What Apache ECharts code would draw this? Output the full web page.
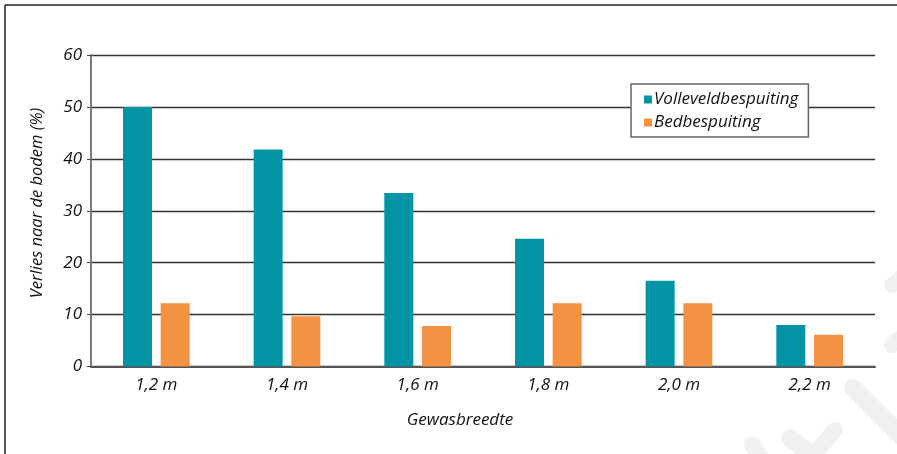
<!DOCTYPE html>
<html>
<head>
<meta charset="utf-8">
<script src="https://cdn.jsdelivr.net/npm/echarts@6/dist/echarts.min.js"></script>
<style>
  html, body { margin: 0; padding: 0; background: #fff; }
  #chart { width: 897px; height: 454px; }
</style>
</head>
<body>
<div id="chart"></div>
<script>
// Crop width categories and losses to the soil per spraying method
const categories = ['1,2 m', '1,4 m', '1,6 m', '1,8 m', '2,0 m', '2,2 m'];
const volleveld = [50, 41.8, 33.4, 24.6, 16.5, 8.0];
const bed = [12.2, 9.7, 7.8, 12.2, 12.2, 6.1];
const seriesNames = ['Volleveldbespuiting', 'Bedbespuiting'];
const yTicks = [0, 10, 20, 30, 40, 50, 60];

const FONT = '"Open Sans", Lato, sans-serif';
const TEAL = '#0294a4';
const ORANGE = '#f39243';
const MARK = '#f0f0f0';

const chart = echarts.init(document.getElementById('chart'), null, { renderer: 'canvas' });

// faint background logo strokes in the lower right corner
function stroke(x1, y1, x2, y2, w) {
  return {
    type: 'line', silent: true, z: -1,
    shape: { x1: x1, y1: y1, x2: x2, y2: y2 },
    style: { stroke: MARK, lineWidth: w, lineCap: 'round' }
  };
}

chart.setOption({
  animation: false,
  backgroundColor: '#ffffff',
  grid: { left: 91, right: 22, top: 55, bottom: 87.5, containLabel: false },
  legend: {
    data: seriesNames,
    orient: 'vertical',
    left: 631, top: 84,
    backgroundColor: '#ffffff',
    borderColor: '#666666',
    borderWidth: 1.5,
    borderRadius: 0,
    padding: [7, 10, 6, 13],
    itemGap: 6,
    itemWidth: 8, itemHeight: 8,
    icon: 'rect',
    textStyle: { fontFamily: FONT, fontStyle: 'italic', fontSize: 17, color: '#111', padding: [0, 0, 0, -3] },
    z: 10
  },
  xAxis: {
    type: 'category',
    data: categories,
    axisLine: { show: true, lineStyle: { color: '#555', width: 2 } },
    axisTick: { show: false },
    axisLabel: { fontFamily: FONT, fontStyle: 'italic', fontSize: 17, color: '#111', margin: 10 }
  },
  yAxis: {
    type: 'value',
    min: yTicks[0], max: yTicks[yTicks.length - 1], interval: 10,
    axisLine: { show: true, lineStyle: { color: '#7a7a7a', width: 2 } },
    axisTick: { show: true, length: 4, inside: false, lineStyle: { color: '#444', width: 1 } },
    axisLabel: { fontFamily: FONT, fontStyle: 'italic', fontSize: 17, color: '#111', margin: 9 },
    splitLine: { show: true, lineStyle: { color: '#333', width: 1.3 } }
  },
  series: [
    {
      name: seriesNames[0], type: 'bar', data: volleveld,
      barWidth: 29, barGap: '30%',
      itemStyle: { color: TEAL }
    },
    {
      name: seriesNames[1], type: 'bar', data: bed,
      barWidth: 29, barGap: '30%',
      itemStyle: { color: ORANGE }
    }
  ],
  graphic: [
    // frame around the figure
    { type: 'line', silent: true, shape: { x1: 5, y1: 5, x2: 897, y2: 5 }, style: { stroke: '#222', lineWidth: 1.5 } },
    { type: 'line', silent: true, shape: { x1: 5, y1: 5, x2: 5, y2: 454 }, style: { stroke: '#222', lineWidth: 1.5 } },
    stroke(892, 285, 905, 275, 16),
    stroke(892, 345, 905, 335, 16),
    stroke(853, 388, 905, 440, 18),
    stroke(790, 438, 830, 470, 18),
    stroke(800, 470, 835, 430, 16),
    stroke(752, 445, 770, 470, 16),
    {
      type: 'text', silent: true,
      x: 460, y: 420,
      style: {
        text: 'Gewasbreedte', fontFamily: FONT, fontStyle: 'italic', fontSize: 17, fill: '#111',
        align: 'center', verticalAlign: 'middle'
      }
    },
    {
      type: 'text', silent: true,
      x: 37, y: 203, rotation: Math.PI / 2,
      style: {
        text: 'Verlies naar de bodem (%)', fontFamily: FONT, fontStyle: 'italic', fontSize: 16.5,
        fill: '#111', align: 'center', verticalAlign: 'middle'
      }
    }
  ]
});
</script>
</body>
</html>
